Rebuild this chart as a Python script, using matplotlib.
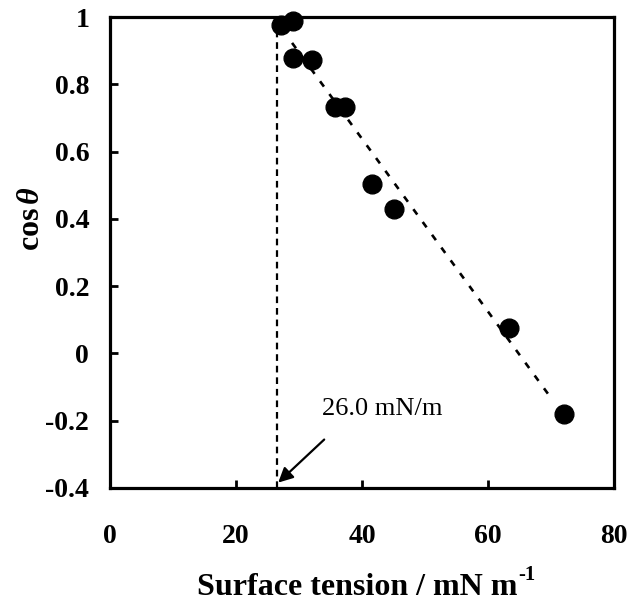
import matplotlib
matplotlib.use("Agg")
import matplotlib.pyplot as plt

# Data (Zisman-type plot)
surface_tension = [27.1, 29.0, 29.0, 32.1, 35.7, 37.3, 41.6, 45.1, 63.3, 72.1]
cos_theta = [0.976, 0.988, 0.878, 0.872, 0.732, 0.732, 0.503, 0.429, 0.077, -0.179]

# Fitted line end points
fit_x = [28.9, 70.3]
fit_y = [0.923, -0.140]

critical_x = 26.5
critical_label = "26.0 mN/m"

x_ticks = [0, 20, 40, 60, 80]
y_ticks = [-0.4, -0.2, 0, 0.2, 0.4, 0.6, 0.8, 1]
y_tick_labels = ["-0.4", "-0.2", "0", "0.2", "0.4", "0.6", "0.8", "1"]

plt.rcParams["font.family"] = ["Liberation Serif", "DejaVu Serif"]
plt.rcParams["mathtext.fontset"] = "custom"
plt.rcParams["mathtext.it"] = "Liberation Serif:italic:bold"
plt.rcParams["mathtext.rm"] = "Liberation Serif:bold"

fig = plt.figure(figsize=(6.3, 6.05), dpi=100)
ax = fig.add_axes([0.1746, 0.1934, 0.8, 0.7785])

# vertical dashed line at the critical surface tension
ax.plot([critical_x, critical_x], [-0.4, 1.0], color="black",
        linestyle=(0, (3, 2.2)), linewidth=1.6, zorder=2)

# fitted line
ax.plot(fit_x, fit_y, color="black", linestyle=(0, (2.5, 3.5)),
        linewidth=1.9, zorder=2)

ax.plot(surface_tension, cos_theta, "o", color="black", markersize=13.5,
        zorder=3, clip_on=False)

ax.annotate("", xy=(26.7, -0.384), xytext=(34.0, -0.256),
            arrowprops=dict(arrowstyle="-|>", color="black", lw=1.6,
                            mutation_scale=22, shrinkA=0, shrinkB=0))
ax.text(43.2, -0.164, critical_label, fontsize=19, ha="center", va="center")

ax.set_xlim(0, 80)
ax.set_ylim(-0.4, 1.0)
ax.set_xticks(x_ticks)
ax.set_yticks(y_ticks)
ax.set_yticklabels(y_tick_labels)

for spine in ax.spines.values():
    spine.set_linewidth(2.3)

ax.tick_params(axis="both", direction="in", length=6, width=2,
               labelsize=20)
ax.tick_params(axis="x", pad=26)
ax.tick_params(axis="y", pad=15)
for label in ax.get_xticklabels() + ax.get_yticklabels():
    label.set_fontweight("bold")

xlab = ax.set_xlabel("Surface tension / mN m", fontsize=23,
                     fontweight="bold")
ax.xaxis.set_label_coords(0.49, -0.18)
ax.set_ylabel(r"cos$\,\theta$", fontsize=23, fontweight="bold")
ax.yaxis.set_label_coords(-0.127, 0.571)

# superscript "-1" after the x label
fig.canvas.draw()
bb = xlab.get_window_extent()
fig.text((bb.x1 + 1) / fig.bbox.width, (bb.y1 + 8) / fig.bbox.height, "-1",
         fontsize=15, fontweight="bold", ha="left", va="top")

fig.savefig("out.png", dpi=100)
